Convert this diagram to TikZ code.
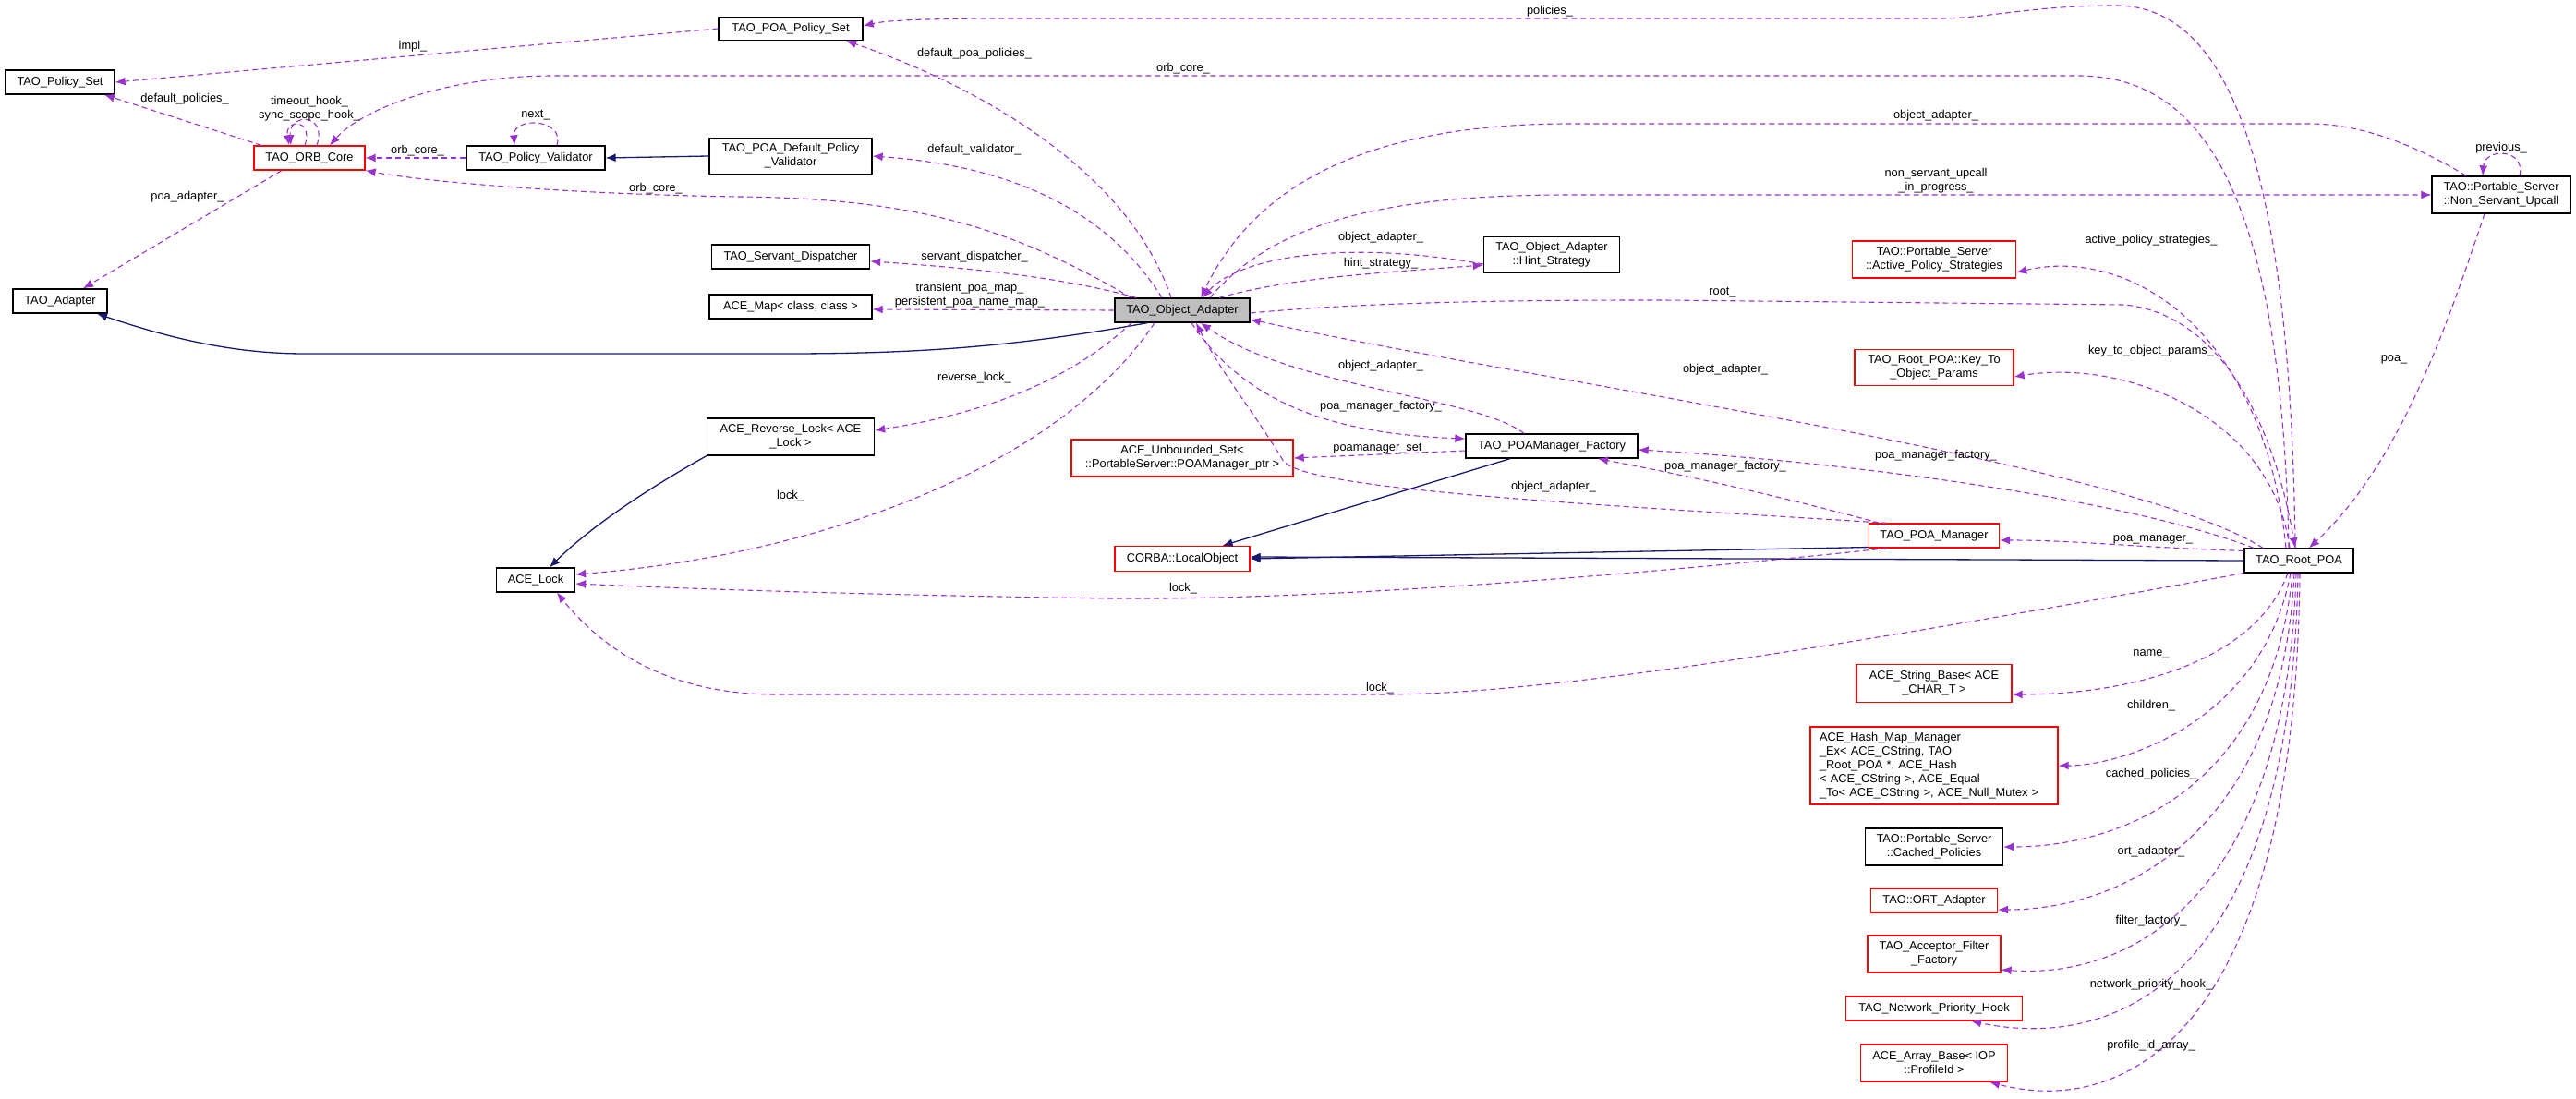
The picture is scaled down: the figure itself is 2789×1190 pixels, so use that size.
\documentclass[tikz,border=0pt]{standalone}
\usepackage{fontspec}
\setmainfont{Liberation Sans}
\usetikzlibrary{arrows.meta}
\definecolor{memcol}{RGB}{154,50,205}
\definecolor{inhcol}{RGB}{25,25,112}
\begin{document}
\begin{tikzpicture}[x=1pt,y=-1pt,
  every node/.style={font=\fontsize{12.8}{15}\selectfont,inner sep=0pt},
  cls/.style={draw=black,line width=1.3pt,fill=white,align=center,minimum height=26pt},
  redcls/.style={cls,draw=red},
  cur/.style={cls,fill=black!25},
  lbl/.style={align=center},
  mem/.style={draw=memcol,line width=1.1pt,dash pattern=on 6pt off 4pt,-{Latex[length=11pt,width=9pt]}},
  inh/.style={draw=inhcol,line width=1.3pt,-{Latex[length=11pt,width=9pt]}}]
  \useasboundingbox (0,0) rectangle (2789,1190);
  % classes
  \node[cls,minimum width=156pt,minimum height=25pt] (polset) at (856,31) {TAO\_POA\_Policy\_Set};
  \node[cls,minimum width=118pt] (polbase) at (65,89) {TAO\_Policy\_Set};
  \node[redcls,minimum width=120pt] (orb) at (335,171) {TAO\_ORB\_Core};
  \node[cls,minimum width=150pt] (validator) at (580,171) {TAO\_Policy\_Validator};
  \node[cls,minimum width=176pt,minimum height=39pt] (defval) at (856,169) {TAO\_POA\_Default\_Policy\\\_Validator};
  \node[cls,minimum width=171pt] (servdisp) at (856,278) {TAO\_Servant\_Dispatcher};
  \node[cls,minimum width=176pt] (acemap) at (856,332) {ACE\_Map< class, class >};
  \node[cls,minimum width=102pt] (adapter) at (65,326) {TAO\_Adapter};
  \node[cls,minimum width=181pt,minimum height=40pt] (revlock) at (856,473) {ACE\_Reverse\_Lock< ACE\\\_Lock >};
  \node[cls,minimum width=85pt] (lock) at (580,628) {ACE\_Lock};
  \node[cur,minimum width=146pt] (objad) at (1280,336) {TAO\_Object\_Adapter};
  \node[cls,minimum width=147pt,minimum height=39pt] (hint) at (1680,276) {TAO\_Object\_Adapter\\::Hint\_Strategy};
  \node[redcls,minimum width=177pt,minimum height=40pt] (actpol) at (2094,281) {TAO::Portable\_Server\\::Active\_Policy\_Strategies};
  \node[redcls,minimum width=172pt,minimum height=39pt] (keyto) at (2094,398) {TAO\_Root\_POA::Key\_To\\\_Object\_Params};
  \node[cls,minimum width=186pt] (pmfact) at (1680,483) {TAO\_POAManager\_Factory};
  \node[redcls,minimum width=240pt,minimum height=40pt] (pmset) at (1280,496) {ACE\_Unbounded\_Set<\\::PortableServer::POAManager\_ptr >};
  \node[redcls,minimum width=146pt,minimum height=27pt] (locobj) at (1280,605) {CORBA::LocalObject};
  \node[redcls,minimum width=141pt] (poamgr) at (2094,580) {TAO\_POA\_Manager};
  \node[redcls,minimum width=168pt,minimum height=41pt] (strbase) at (2094,740) {ACE\_String\_Base< ACE\\\_CHAR\_T >};
  \node[redcls,minimum width=268pt,minimum height=84pt,align=left,text width=248pt] (hashmap) at (2094,829) {ACE\_Hash\_Map\_Manager\\\_Ex< ACE\_CString, TAO\\\_Root\_POA *, ACE\_Hash\\< ACE\_CString >, ACE\_Equal\\\_To< ACE\_CString >, ACE\_Null\_Mutex >};
  \node[cls,minimum width=149pt,minimum height=40pt] (cached) at (2094,917) {TAO::Portable\_Server\\::Cached\_Policies};
  \node[redcls,minimum width=137pt] (ort) at (2094,975) {TAO::ORT\_Adapter};
  \node[redcls,minimum width=144pt,minimum height=40pt] (filter) at (2094,1033) {TAO\_Acceptor\_Filter\\\_Factory};
  \node[redcls,minimum width=191pt] (netprio) at (2094,1092) {TAO\_Network\_Priority\_Hook};
  \node[redcls,minimum width=159pt,minimum height=40pt] (arrbase) at (2094,1151) {ACE\_Array\_Base< IOP\\::ProfileId >};
  \node[cls,minimum width=150pt,minimum height=40pt] (upcall) at (2708,211) {TAO::Portable\_Server\\::Non\_Servant\_Upcall};
  \node[cls,minimum width=118pt] (rootpoa) at (2489,607) {TAO\_Root\_POA};
  % inheritance
  \draw[inh] (defval.west) -- (validator.east);
  \draw[inh] (objad.200) .. controls (1100,375) and (1000,383) .. (850,383) -- (330,383) .. controls (250,383) and (180,365) .. ([xshift=40pt]adapter.south);
  \draw[inh] (revlock.south west) .. controls (700,530) and (640,570) .. ([xshift=15pt]lock.north);
  \draw[inh] ([xshift=-45pt]pmfact.south) -- ([xshift=-30pt]locobj.north east);
  \draw[inh] (poamgr.190) -- (locobj.east);
  \draw[inh] (rootpoa.west) -- ([yshift=2pt]locobj.east);
  % members
  \draw[mem] (polset.west) -- (polbase.east);
  \draw[mem] ([xshift=-52pt]orb.north) -- ([xshift=48pt]polbase.south);
  \draw[mem] ([xshift=-5pt]orb.north) .. controls (340,128) and (308,128) .. ([xshift=-22pt]orb.north);
  \draw[mem] ([xshift=8pt]orb.north) .. controls (355,122) and (312,122) .. ([xshift=-20pt]orb.north);
  \draw[mem] ([xshift=23pt]validator.north) .. controls (612,128) and (555,126) .. ([xshift=-23pt]validator.north);
  \draw[mem] (validator.west) -- (orb.east);
  \draw[mem] ([xshift=-30pt]orb.south) -- ([xshift=25pt]adapter.north);
  \draw[mem] ([xshift=-55pt]objad.north) .. controls (1100,250) and (1000,215) .. (800,213) .. controls (600,210) and (450,195) .. (orb.south east);
  \draw[mem] ([xshift=-11pt]rootpoa.north) .. controls (2470,200) and (2380,82) .. (2250,82) -- (600,82) .. controls (480,82) and (390,120) .. ([xshift=22pt]orb.north);
  \draw[mem] ([xshift=-4pt]rootpoa.north) .. controls (2480,200) and (2420,5) .. (2290,6) .. controls (2200,6) and (2150,20) .. (2100,20) -- (1100,20) .. controls (1000,20) and (960,22) .. ([yshift=3pt]polset.east);
  \draw[mem] ([xshift=-12pt]objad.north) .. controls (1220,180) and (1050,90) .. ([xshift=60pt]polset.south);
  \draw[mem] ([xshift=-22pt]objad.north) .. controls (1200,230) and (1100,180) .. (defval.east);
  \draw[mem] ([xshift=-50pt]objad.north) .. controls (1150,300) and (1050,290) .. ([yshift=-5pt]servdisp.east);
  \draw[mem] (objad.west) -- ([yshift=-3pt]acemap.east);
  \draw[mem] ([xshift=-55pt]objad.south) .. controls (1150,420) and (1050,450) .. ([yshift=7pt]revlock.east);
  \draw[mem] ([xshift=-30pt]objad.south) .. controls (1150,500) and (900,600) .. ([yshift=6pt]lock.east);
  \draw[mem] (poamgr.195) .. controls (1700,630) and (1400,650) .. (1200,648) .. controls (1000,645) and (800,640) .. ([yshift=-4pt]lock.east);
  \draw[mem] (rootpoa.south west) .. controls (2100,680) and (1700,752) .. (1500,752) -- (840,752) .. controls (720,752) and (650,700) .. ([xshift=23pt]lock.south);
  \draw[mem] ([yshift=-10pt]hint.west) .. controls (1450,258) and (1340,280) .. ([xshift=22pt]objad.north);
  \draw[mem] ([xshift=40pt]objad.north) .. controls (1400,300) and (1500,295) .. ([yshift=-11pt]hint.west);
  \draw[mem] ([xshift=-38pt]upcall.north) .. controls (2620,160) and (2560,134) .. (2500,134) -- (1700,134) .. controls (1450,134) and (1350,220) .. ([xshift=20pt]objad.north);
  \draw[mem] ([xshift=30pt]objad.north) .. controls (1380,240) and (1500,211) .. (1700,211) -- (upcall.west);
  \draw[mem] ([xshift=20pt]upcall.north) .. controls (2735,160) and (2690,160) .. ([xshift=-20pt]upcall.north);
  \draw[mem] ([xshift=-18pt]upcall.south) .. controls (2650,350) and (2600,500) .. ([xshift=11pt]rootpoa.north);
  \draw[mem] ([yshift=-3pt]objad.east) .. controls (1500,325) and (1700,325) .. (1800,325) -- (2300,330) .. controls (2400,340) and (2460,450) .. ([xshift=-4pt]rootpoa.north);
  \draw[mem] ([xshift=-39pt]rootpoa.north) .. controls (2300,500) and (1700,420) .. ([yshift=-10pt]objad.east);
  \draw[mem] ([xshift=-30pt]pmfact.north) .. controls (1600,430) and (1400,420) .. ([xshift=20pt]objad.south);
  \draw[mem] ([xshift=10pt]objad.south) .. controls (1350,440) and (1450,470) .. ([yshift=8pt]pmfact.west);
  \draw[mem] ([yshift=-5pt]pmfact.west) -- (pmset.east);
  \draw[mem] (poamgr.165) .. controls (1700,545) and (1420,530) .. (1390,500) .. controls (1360,450) and (1320,400) .. ([xshift=15pt]objad.south);
  \draw[mem] ([xshift=-49pt]rootpoa.north) .. controls (2300,540) and (2000,500) .. ([yshift=-4pt]pmfact.east);
  \draw[mem] ([xshift=-59pt]poamgr.north) .. controls (1900,530) and (1800,510) .. ([xshift=50pt]pmfact.south);
  \draw[mem] (rootpoa.170) .. controls (2300,592) and (2250,585) .. ([yshift=-5pt]poamgr.east);
  \draw[mem] ([xshift=-14pt]rootpoa.north) .. controls (2450,350) and (2300,267) .. ([yshift=-14pt]actpol.east);
  \draw[mem] ([xshift=-10pt]rootpoa.north) .. controls (2460,450) and (2300,388) .. ([yshift=-10pt]keyto.east);
  \draw[mem] ([xshift=-12pt]rootpoa.south) .. controls (2440,720) and (2300,752) .. ([yshift=-12pt]strbase.east);
  \draw[mem] ([xshift=-9pt]rootpoa.south) .. controls (2450,780) and (2300,829) .. (hashmap.east);
  \draw[mem] ([xshift=-7pt]rootpoa.south) .. controls (2460,850) and (2300,917) .. (cached.east);
  \draw[mem] ([xshift=-5pt]rootpoa.south) .. controls (2470,900) and (2300,985) .. ([yshift=-10pt]ort.east);
  \draw[mem] ([xshift=-3pt]rootpoa.south) .. controls (2475,980) and (2300,1060) .. ([yshift=-17pt]filter.east);
  \draw[mem] ([xshift=-1pt]rootpoa.south) .. controls (2480,1050) and (2300,1140) .. ([xshift=40pt]netprio.south);
  \draw[mem] ([xshift=1pt]rootpoa.south) .. controls (2485,1120) and (2300,1210) .. ([xshift=60pt]arrbase.south);
  % labels
  \node[lbl] (l1) at (447,50) {impl\_};
  \node[lbl] (l2) at (200,107) {default\_policies\_};
  \node[lbl] (l3) at (335,118) {timeout\_hook\_\\sync\_scope\_hook\_};
  \node[lbl] (l4) at (580,125) {next\_};
  \node[lbl] (l5) at (452,163) {orb\_core\_};
  \node[lbl] (l6) at (710,204) {orb\_core\_};
  \node[lbl] (l7) at (203,213) {poa\_adapter\_};
  \node[lbl] (l8) at (1055,58) {default\_poa\_policies\_};
  \node[lbl] (l9) at (1055,162) {default\_validator\_};
  \node[lbl] (l10) at (1055,278) {servant\_dispatcher\_};
  \node[lbl] (l11) at (1050,320) {transient\_poa\_map\_\\persistent\_poa\_name\_map\_};
  \node[lbl] (l12) at (1055,409) {reverse\_lock\_};
  \node[lbl] (l13) at (856,537) {lock\_};
  \node[lbl] (l14) at (1678,12) {policies\_};
  \node[lbl] (l15) at (1281,74) {orb\_core\_};
  \node[lbl] (l16) at (2096,125) {object\_adapter\_};
  \node[lbl] (l17) at (2096,196) {non\_servant\_upcall\\\_in\_progress\_};
  \node[lbl] (l18) at (1495,257) {object\_adapter\_};
  \node[lbl] (l19) at (1495,285) {hint\_strategy\_};
  \node[lbl] (l20) at (1865,317) {root\_};
  \node[lbl] (l21) at (2329,260) {active\_policy\_strategies\_};
  \node[lbl] (l22) at (2329,380) {key\_to\_object\_params\_};
  \node[lbl] (l23) at (1868,400) {object\_adapter\_};
  \node[lbl] (l24) at (1495,396) {object\_adapter\_};
  \node[lbl] (l25) at (1495,440) {poa\_manager\_factory\_};
  \node[lbl] (l26) at (1495,486) {poamanager\_set\_};
  \node[lbl] (l27) at (2096,493) {poa\_manager\_factory\_};
  \node[lbl] (l28) at (1868,505) {poa\_manager\_factory\_};
  \node[lbl] (l29) at (1682,527) {object\_adapter\_};
  \node[lbl] (l30) at (2331,584) {poa\_manager\_};
  \node[lbl] (l31) at (1281,637) {lock\_};
  \node[lbl] (l32) at (1494,745) {lock\_};
  \node[lbl] (l33) at (2592,389) {poa\_};
  \node[lbl] (l34) at (2708,160) {previous\_};
  \node[lbl] (l35) at (2329,708) {name\_};
  \node[lbl] (l36) at (2329,764) {children\_};
  \node[lbl] (l37) at (2329,838) {cached\_policies\_};
  \node[lbl] (l38) at (2329,922) {ort\_adapter\_};
  \node[lbl] (l39) at (2329,997) {filter\_factory\_};
  \node[lbl] (l40) at (2329,1066) {network\_priority\_hook\_};
  \node[lbl] (l41) at (2329,1132) {profile\_id\_array\_};
\end{tikzpicture}
\end{document}
